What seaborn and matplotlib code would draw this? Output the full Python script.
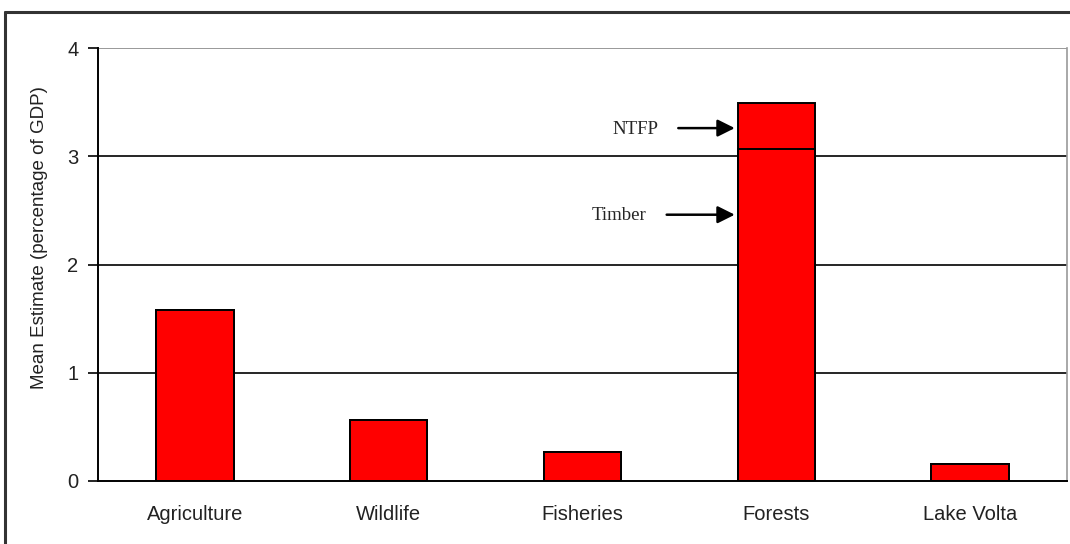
import matplotlib.pyplot as plt
import seaborn as sns
import pandas as pd
from matplotlib.lines import Line2D

sectors = ["Agriculture", "Wildlife", "Fisheries", "Forests", "Lake Volta"]
base_values = [1.58, 0.56, 0.27, 3.07, 0.16]   # Forests base = Timber
ntfp_values = [0.0, 0.0, 0.0, 0.42, 0.0]        # NTFP stacked on Forests
yticks = [0, 1, 2, 3, 4]
y_label = "Mean Estimate (percentage of GDP)"


def main():
    sns.set_style("white")
    plt.rcParams["font.family"] = ["Liberation Sans", "DejaVu Sans"]

    df = pd.DataFrame({
        "Sector": sectors,
        "Base": base_values,
        "Total": [b + n for b, n in zip(base_values, ntfp_values)],
    })

    fig = plt.figure(figsize=(10.70, 5.44), dpi=100)
    ax = fig.add_axes([98 / 1070, 1 - 481 / 544, 969 / 1070, 433 / 544])

    # total height first, then the base segment on top so the split line shows
    sns.barplot(data=df, x="Sector", y="Total", color="#ff0000", saturation=1,
                width=0.4, edgecolor="black", linewidth=1.4, ax=ax)
    sns.barplot(data=df, x="Sector", y="Base", color="#ff0000", saturation=1,
                width=0.4, edgecolor="black", linewidth=1.4, ax=ax)

    ax.set_xlim(-0.5, 4.5)
    ax.set_ylim(0, 4)
    ax.set_yticks(yticks)
    ax.set_yticklabels([str(t) for t in yticks], fontsize=14.5, color="#222222")
    for t in yticks[1:-1]:
        ax.axhline(t, color="black", linewidth=1.2, zorder=0)
    ax.axhline(4, color="#888888", linewidth=1.2, zorder=0)

    # category boundaries as ticks, names as minor ticks in the middle
    ax.set_xticks([i - 0.5 for i in range(len(sectors) + 1)])
    ax.set_xticklabels([])
    ax.set_xticks(range(len(sectors)), minor=True)
    ax.set_xticklabels(sectors, minor=True, fontsize=14.5, color="#222222")
    ax.tick_params(axis="x", which="major", direction="out", length=6, width=1.2, color="black")
    ax.tick_params(axis="x", which="minor", length=0, pad=17)
    ax.tick_params(axis="y", direction="out", length=7, width=1.2, color="black", pad=7, left=True)

    ax.set_xlabel("")
    ax.set_ylabel(y_label, fontsize=13.5, color="#222222")
    ax.yaxis.set_label_coords(-50 / 969, 0.563)

    for side in ["left", "bottom"]:
        ax.spines[side].set_color("black")
        ax.spines[side].set_linewidth(1.4)
    ax.spines["right"].set_color("#999999")
    ax.spines["right"].set_linewidth(1.2)
    ax.spines["top"].set_visible(False)

    # annotations for the Forests segments
    serif = ["Liberation Serif", "DejaVu Serif"]
    arrow = dict(arrowstyle="-|>", color="black", lw=1.8, mutation_scale=26)
    ax.annotate("", xy=(2.8, 3.26), xytext=(2.48, 3.26), arrowprops=arrow)
    ax.text(2.39, 3.25, "NTFP", ha="right", va="center", fontsize=13.5, family=serif)
    ax.annotate("", xy=(2.8, 2.46), xytext=(2.42, 2.46), arrowprops=arrow)
    ax.text(2.33, 2.45, "Timber", ha="right", va="center", fontsize=13.5, family=serif)

    # outer frame of the scanned figure
    fig.add_artist(Line2D([5 / 1070, 1.0], [1 - 12 / 544] * 2, color="#333333", lw=2.2))
    fig.add_artist(Line2D([5 / 1070] * 2, [0.0, 1 - 12 / 544], color="#333333", lw=2.2))

    fig.savefig("out.png", dpi=100, facecolor="white")
    plt.close(fig)


if __name__ == "__main__":
    main()
